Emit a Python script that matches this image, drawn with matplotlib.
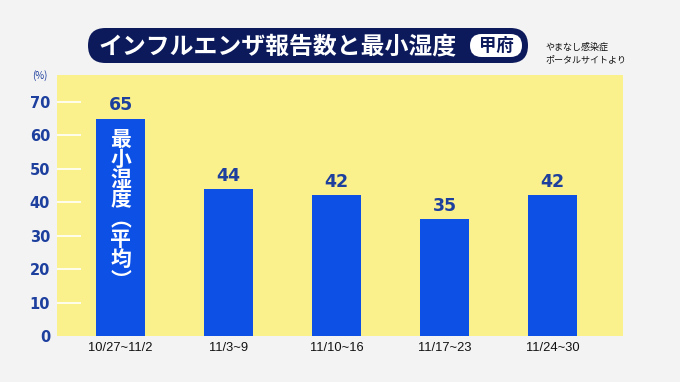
import matplotlib
matplotlib.use("Agg")
import matplotlib.pyplot as plt
from matplotlib.patches import FancyBboxPatch
from matplotlib import font_manager

plt.rcParams['font.family'] = ['Noto Sans CJK JP', 'DejaVu Sans']

categories = ["10/27~11/2", "11/3~9", "11/10~16", "11/17~23", "11/24~30"]
values = [65, 44, 42, 35, 42]
yticks = [0, 10, 20, 30, 40, 50, 60, 70]
title = "インフルエンザ報告数と最小湿度"
badge = "甲府"
source = "やまなし感染症\nポータルサイトより"
bar_note = "最\n小\n湿\n度\n︵\n平\n均\n︶"

BLUE = "#0d50e6"
LABEL_BLUE = "#1d3f9e"
YELLOW = "#faf08c"
NAVY = "#0c1a5c"

names = {f.name for f in font_manager.fontManager.ttflist}
if "Liberation Sans Narrow" in names:
    xfam, xsize = ["Liberation Sans Narrow"], 10.3
else:
    xfam, xsize = ["Liberation Sans"], 9.3

W, H = 680, 382
fig = plt.figure(figsize=(W/100, H/100), dpi=100)
fig.patch.set_facecolor("#f3f3f3")

ax = fig.add_axes([57/W, 1-336/H, (623-57)/W, (336-75)/H])
ax.set_facecolor(YELLOW)
x = list(range(len(categories)))
ax.bar(x, values, width=0.45, color=BLUE, zorder=3)
ax.set_xlim(-0.59, 4.65)
ax.set_ylim(0, 78)
for s in ax.spines.values():
    s.set_visible(False)

for t in yticks[1:]:
    ax.plot([-0.59, -0.37], [t, t], color="white", lw=1.2, zorder=2, solid_capstyle="butt")

ax.set_yticks(yticks)
ax.set_yticklabels([str(t) for t in yticks], fontsize=10.5, fontweight="bold",
                   color=LABEL_BLUE, family=["DejaVu Sans"])
ax.tick_params(axis="y", length=0, pad=5)
ax.set_xticks(x)
ax.set_xticklabels(categories, fontsize=xsize, color="#111111", family=xfam)
ax.tick_params(axis="x", length=0, pad=4)

for xi, v in zip(x, values):
    ax.text(xi, v + 1.2, str(v), ha="center", va="bottom", fontsize=12.5,
            fontweight="bold", color=LABEL_BLUE, family=["DejaVu Sans"])

ax.text(0, 62.0, bar_note, ha="center", va="top", fontsize=15, fontweight="bold",
        color="white", linespacing=0.95, zorder=4)

ov = fig.add_axes([0, 0, 1, 1], facecolor="none")
ov.set_xlim(0, W)
ov.set_ylim(H, 0)
ov.axis("off")

ov.text(40, 76, "(%)", fontsize=7, color=LABEL_BLUE, ha="center", va="center")

ov.add_patch(FancyBboxPatch((88, 28), 440, 35, boxstyle="round,pad=0,rounding_size=17.5",
                            facecolor=NAVY, edgecolor="none"))
ov.text(278, 46, title, fontsize=17.2, fontweight="bold", color="white",
        ha="center", va="center")
ov.add_patch(FancyBboxPatch((470, 34), 52, 23, boxstyle="round,pad=0,rounding_size=11.5",
                            facecolor="white", edgecolor="none"))
ov.text(496, 46, badge, fontsize=12.5, fontweight="bold", color=NAVY,
        ha="center", va="center")

ov.text(545, 53, source, fontsize=6.5, color="#111111", ha="left", va="center",
        linespacing=1.5)

fig.savefig("out.png", dpi=100, facecolor=fig.get_facecolor())
